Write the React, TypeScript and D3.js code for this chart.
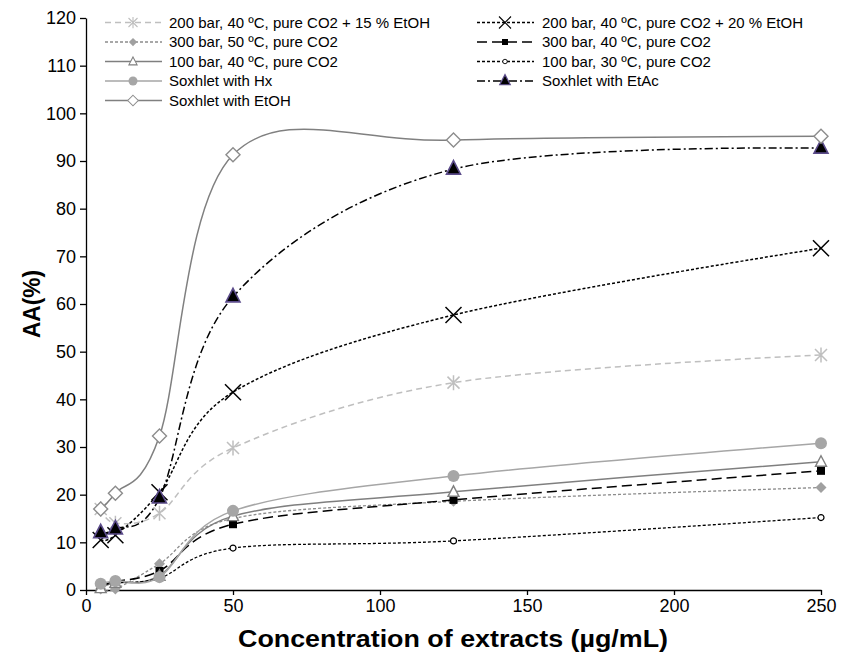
import React, { useEffect, useRef } from "react";
import * as d3 from "d3";

const concentrations = [5, 10, 25, 50, 125, 250];

const seriesNames = [
  "200 bar, 40 ºC, pure CO2 + 15 % EtOH",
  "200 bar, 40 ºC, pure CO2 + 20 % EtOH",
  "300 bar, 50 ºC, pure CO2",
  "300 bar, 40 ºC, pure CO2",
  "100 bar, 40 ºC, pure CO2",
  "100 bar, 30 ºC, pure CO2",
  "Soxhlet with Hx",
  "Soxhlet with EtAc",
  "Soxhlet with EtOH",
];

const co2Etoh15 = [17, 14, 16.1, 29.8, 43.5, 49.3];
const co2Etoh20 = [10.5, 11.5, 20.5, 41.5, 57.7, 71.7];
const co2300b50 = [0.2, 0.2, 5.5, 15, 18.6, 21.5];
const co2300b40 = [1, 1.8, 4, 13.8, 18.9, 25];
const co2100b40 = [0.4, 1.5, 3, 15.5, 20.6, 26.9];
const co2100b30 = [1, 1.5, 2.5, 8.8, 10.3, 15.2];
const soxHx = [1.3, 1.9, 2.7, 16.6, 23.9, 30.8];
const soxEtAc = [12, 12.8, 19.3, 61.5, 88.3, 92.7];
const soxEtOH = [17, 20.3, 32.3, 91.3, 94.4, 95.2];

const seriesValues = [
  co2Etoh15, co2Etoh20, co2300b50, co2300b40, co2100b40, co2100b30, soxHx, soxEtAc, soxEtOH,
];

const xTicks = [0, 50, 100, 150, 200, 250];
const yTicks = d3.range(0, 121, 10);

type Style = {
  color: string;
  width: number;
  dash: string;
  marker: string;
};

// line + marker look of each series, same order as the names
const styles: Style[] = [
  { color: "#bfbfbf", width: 1.5, dash: "6,4", marker: "asterisk" },
  { color: "#000000", width: 1.5, dash: "3,2", marker: "x" },
  { color: "#8c8c8c", width: 1.3, dash: "3,2", marker: "diamondFill" },
  { color: "#000000", width: 1.5, dash: "10,5", marker: "square" },
  { color: "#7f7f7f", width: 1.5, dash: "", marker: "triangleOpen" },
  { color: "#000000", width: 1.3, dash: "3,2", marker: "circleOpen" },
  { color: "#a6a6a6", width: 1.5, dash: "", marker: "circleFill" },
  { color: "#000000", width: 1.5, dash: "8,3,2,3", marker: "triangleFill" },
  { color: "#808080", width: 1.5, dash: "", marker: "diamondOpen" },
];

const font = "'Liberation Sans', Arial, sans-serif";

const Marker = ({ kind, x, y, s = 1 }: { kind: string; x: number; y: number; s?: number }) => {
  const t = `translate(${x},${y}) scale(${s})`;
  switch (kind) {
    case "asterisk":
      return (
        <path transform={t} d="M-6,-6L6,6M-6,6L6,-6M0,-7.5L0,7.5" stroke="#bfbfbf" strokeWidth={1.5} fill="none" />
      );
    case "x":
      return <path transform={t} d="M-8,-8L8,8M-8,8L8,-8" stroke="#000" strokeWidth={1.5} fill="none" />;
    case "diamondFill":
      return <path transform={t} d="M0,-5.5L5.5,0L0,5.5L-5.5,0Z" fill="#a0a0a0" />;
    case "square":
      return <rect transform={t} x={-4} y={-4} width={8} height={8} fill="#000" />;
    case "triangleOpen":
      return <path transform={t} d="M0,-6L5.5,4.5L-5.5,4.5Z" fill="#fff" stroke="#7f7f7f" strokeWidth={1.4} />;
    case "circleOpen":
      return <circle transform={t} r={3} fill="#fff" stroke="#000" strokeWidth={1.2} />;
    case "circleFill":
      return <circle transform={t} r={6} fill="#a6a6a6" />;
    case "triangleFill":
      return <path transform={t} d="M0,-8.5L7,5L-7,5Z" fill="#000" stroke="#5b4b8a" strokeWidth={1.6} />;
    case "diamondOpen":
      return <path transform={t} d="M0,-7L7,0L0,7L-7,0Z" fill="#fff" stroke="#8c8c8c" strokeWidth={1.4} />;
    default:
      return null;
  }
};

const App = () => {
  const xAxisRef = useRef<SVGGElement>(null);
  const yAxisRef = useRef<SVGGElement>(null);

  const width = 852;
  const height = 652;

  const x = d3.scaleLinear().domain([0, 250]).range([86, 821]);
  const y = d3.scaleLinear().domain([0, 120]).range([590, 18]);

  const line = d3
    .line<number>()
    .x((d, i) => x(concentrations[i]))
    .y((d) => y(d))
    .curve(d3.curveCardinal.tension(0));

  useEffect(() => {
    const xa = d3.select(xAxisRef.current);
    xa.call(d3.axisBottom(x).tickValues(xTicks).tickSize(5).tickSizeOuter(0).tickPadding(4));
    xa.selectAll("path,line").attr("stroke", "#000").attr("stroke-width", 1.3);
    xa.selectAll("text").attr("font-family", font).attr("font-size", 18).attr("fill", "#000");

    const ya = d3.select(yAxisRef.current);
    ya.call(d3.axisLeft(y).tickValues(yTicks).tickSize(6).tickSizeOuter(0).tickPadding(4));
    ya.selectAll("path,line").attr("stroke", "#000").attr("stroke-width", 1.3);
    ya.selectAll("text").attr("font-family", font).attr("font-size", 18).attr("fill", "#000");
  }, []);

  const legendRow = (i: number) => 22.5 + Math.floor(i / 2) * 19.5;
  const legendCol = (i: number) =>
    i % 2 === 0 ? { x1: 105, x2: 162, m: 133, t: 169 } : { x1: 477, x2: 534, m: 505, t: 542 };

  return (
    <svg width={width} height={height} style={{ position: "absolute", left: 0, top: 0, background: "#fff" }}>
      <g ref={xAxisRef} transform={`translate(0,${y(0)})`} />
      <g ref={yAxisRef} transform={`translate(${x(0)},0)`} />

      {seriesValues.map((vals, si) => (
        <g key={si}>
          <path
            d={line(vals) || ""}
            fill="none"
            stroke={styles[si].color}
            strokeWidth={styles[si].width}
            strokeDasharray={styles[si].dash || undefined}
          />
          {vals.map((v, i) => (
            <Marker key={i} kind={styles[si].marker} x={x(concentrations[i])} y={y(v)} />
          ))}
        </g>
      ))}

      {/* legend */}
      <g fontFamily={font} fontSize={15}>
        {seriesNames.map((name, i) => {
          const c = legendCol(i);
          const ly = legendRow(i);
          return (
            <g key={name}>
              <line
                x1={c.x1}
                x2={c.x2}
                y1={ly}
                y2={ly}
                stroke={styles[i].color}
                strokeWidth={styles[i].width}
                strokeDasharray={styles[i].dash || undefined}
              />
              <Marker kind={styles[i].marker} x={c.m} y={ly} s={0.75} />
              <text x={c.t} y={ly} dy="0.35em" fill="#000">
                {name}
              </text>
            </g>
          );
        })}
      </g>

      <text
        x={453}
        y={647}
        textAnchor="middle"
        fontFamily={font}
        fontWeight="bold"
        fontSize={23}
        textLength={430}
        lengthAdjust="spacingAndGlyphs"
      >
        Concentration of extracts (µg/mL)
      </text>
      <text
        transform={`translate(40,${y(60)}) rotate(-90)`}
        textAnchor="middle"
        fontFamily={font}
        fontWeight="bold"
        fontSize={23}
        textLength={68}
        lengthAdjust="spacingAndGlyphs"
      >
        AA(%)
      </text>
    </svg>
  );
};

export default App;
